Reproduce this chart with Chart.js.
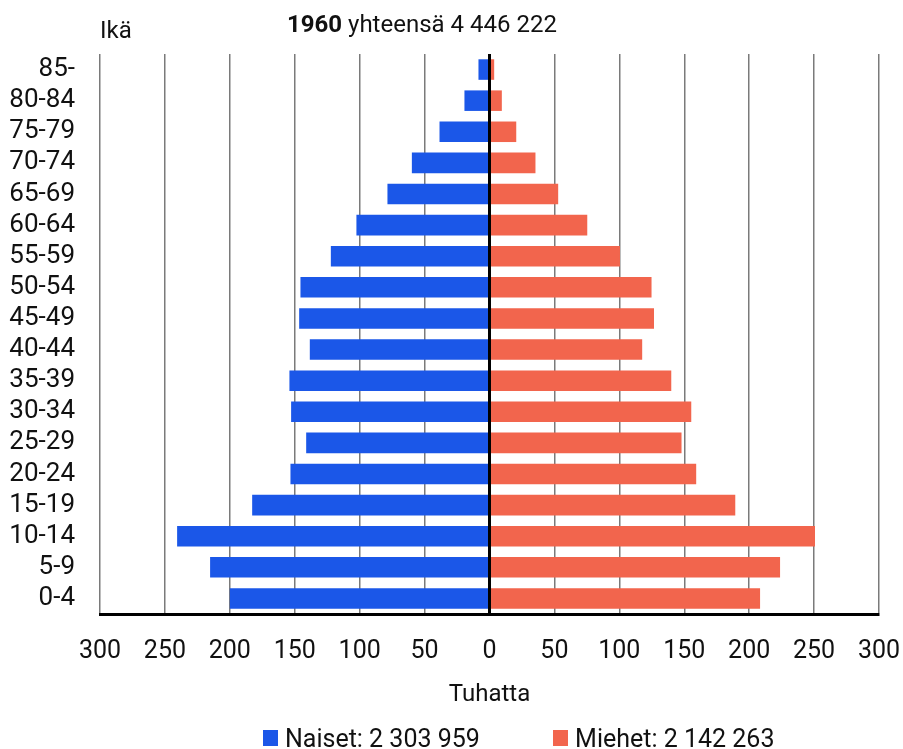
<!DOCTYPE html>
<html>
<head>
<meta charset="utf-8">
<script src="https://cdn.jsdelivr.net/npm/chart.js@4.4.1/dist/chart.umd.min.js"></script>
<style>
  body { margin: 0; background: #fff; font-family: Roboto, sans-serif; color: #111; }
  #wrap { position: relative; width: 903px; height: 749px; }
  #chart { position: absolute; left: 0; top: 0; }
  .txt { position: absolute; white-space: nowrap; line-height: 1; }
  #otsikko { left: 287px; top: 12px; font-size: 24px; }
  #ika { left: 100px; top: 18px; font-size: 24px; }
  #selite { left: 263px; top: 725px; font-size: 25px; }
  .item { display: inline-flex; align-items: center; }
  .box { display: inline-block; width: 15px; height: 16px; margin-right: 7px; }
</style>
</head>
<body>
<div id="wrap">
  <canvas id="chart" width="903" height="749"></canvas>
  <div class="txt" id="ika">Ikä</div>
  <div class="txt" id="otsikko"></div>
  <div class="txt" id="selite"></div>
</div>
<script>
// ikäluokat ylhäältä alas
const ikaluokat = ["85-", "80-84", "75-79", "70-74", "65-69", "60-64", "55-59", "50-54",
  "45-49", "40-44", "35-39", "30-34", "25-29", "20-24", "15-19", "10-14", "5-9", "0-4"];

// tuhansina
const naiset = [8.5, 19.3, 38.5, 59.8, 78.6, 102.5, 122.2, 145.6, 146.6,
  138.4, 154.1, 152.8, 141.2, 153.3, 182.8, 240.6, 215.2, 200.0];
const miehet = [3.6, 9.5, 20.6, 35.4, 52.9, 75.3, 100.5, 124.8, 126.7,
  117.6, 140.0, 155.4, 147.9, 159.2, 189.3, 250.7, 223.8, 208.4];

const vuosi = "1960";
const yhteensa = "4 446 222";
const naisetYht = "2 303 959";
const miehetYht = "2 142 263";

const xMin = -300;
const xMax = 300;
const xStep = 50;

const sininen = "#1b57e8";
const punainen = "#f2654d";

document.getElementById("otsikko").innerHTML =
  "<b>" + vuosi + "</b> yhteensä " + yhteensa;

const selite = document.getElementById("selite");
selite.innerHTML = `
  <span class="item"><span class="box" style="background:${sininen}"></span>Naiset: ${naisetYht}</span>
  <span class="item" style="margin-left:67px"><span class="box" style="background:${punainen}"></span>Miehet: ${miehetYht}</span>
`;

// nollaviiva palkkien päälle
const nollaviiva = {
  id: "nollaviiva",
  afterDatasetsDraw(chart) {
    const { ctx, chartArea, scales } = chart;
    const x = scales.x.getPixelForValue(0);
    ctx.save();
    ctx.strokeStyle = "#000";
    ctx.lineWidth = 3;
    ctx.beginPath();
    ctx.moveTo(x, chartArea.top);
    ctx.lineTo(x, chartArea.bottom);
    ctx.stroke();
    ctx.restore();
  },
};

const ctx = document.getElementById("chart").getContext("2d");
new Chart(ctx, {
  type: "bar",
  data: {
    labels: ikaluokat,
    datasets: [
      {
        label: "Naiset: " + naisetYht,
        data: naiset.map((v) => -v),
        backgroundColor: sininen,
      },
      {
        label: "Miehet: " + miehetYht,
        data: miehet,
        backgroundColor: punainen,
      },
    ],
  },
  options: {
    indexAxis: "y",
    responsive: false,
    animation: false,
    layout: { padding: { top: 54, right: 24, bottom: 0, left: 0 } },
    datasets: { bar: { barPercentage: 0.66, categoryPercentage: 1 } },
    plugins: {
      legend: { display: false },
      tooltip: { enabled: false },
    },
    scales: {
      x: {
        stacked: true,
        min: xMin,
        max: xMax,
        afterFit(scale) {
          scale.height = 135;
          scale.paddingLeft = 0;
          scale.paddingRight = 0;
        },
        ticks: {
          stepSize: xStep,
          padding: 23,
          maxRotation: 0,
          color: "#111",
          font: { family: "Roboto", size: 25 },
          callback: (v) => Math.abs(v),
        },
        grid: {
          drawTicks: false,
          color: (c) => (c.tick && c.tick.value === 0 ? "rgba(0,0,0,0)" : "#7a7a7a"),
          lineWidth: 1.5,
        },
        border: { display: true, color: "#000", width: 3 },
        title: {
          display: true,
          text: "Tuhatta",
          color: "#111",
          font: { family: "Roboto", size: 24 },
          padding: { top: 0, bottom: 40 },
        },
      },
      y: {
        stacked: true,
        afterFit(scale) {
          scale.width = 100;
        },
        grid: { display: false },
        border: { display: false },
        ticks: {
          autoSkip: false,
          padding: 17,
          color: "#111",
          font: { family: "Roboto", size: 26 },
        },
      },
    },
  },
  plugins: [nollaviiva],
});
</script>
</body>
</html>
